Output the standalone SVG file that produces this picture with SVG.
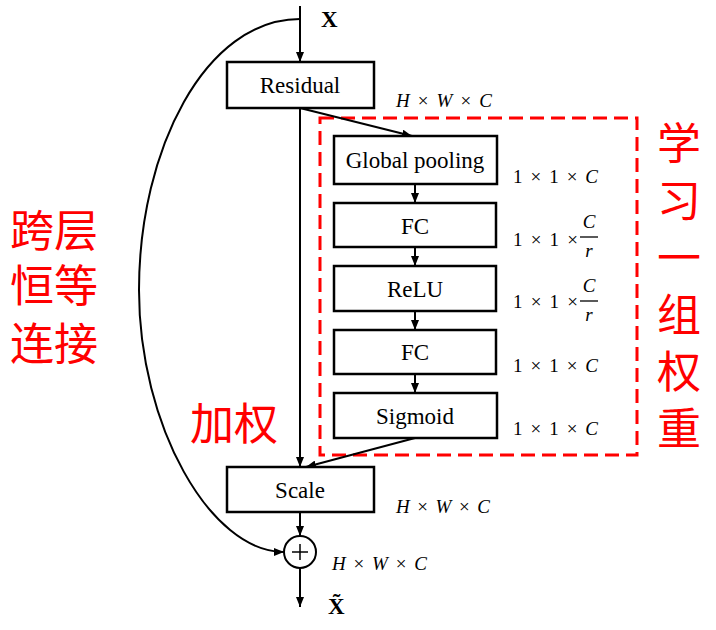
<svg xmlns="http://www.w3.org/2000/svg" width="716" height="630" viewBox="0 0 716 630">
<style>
.box{fill:#fff;stroke:#000;stroke-width:2.5}
.lbl{font-family:"Liberation Serif","Times New Roman",serif;font-size:23px;fill:#000;text-anchor:middle}
.dim{font-family:"Liberation Serif","Times New Roman",serif;font-style:italic;font-size:19px;fill:#000}
.num{font-family:"Liberation Serif","Times New Roman",serif;font-size:19px;fill:#000}
.it{font-style:italic}
.up{font-style:normal}
.cn{font-family:"Noto Sans CJK SC","Noto Sans",sans-serif;font-size:44px;fill:#ff0000}
.ln{fill:none;stroke:#000;stroke-width:2}
</style>
<defs>
<marker id="ah" markerUnits="userSpaceOnUse" markerWidth="10" markerHeight="8" refX="10" refY="4" orient="auto">
<path d="M0,0 L10,4 L0,8 z" fill="#000"/>
</marker>
</defs>
<rect width="716" height="630" fill="#fff"/>

<g id="se-block">
<rect x="320" y="118" width="317" height="337" fill="none" stroke="#ff0000" stroke-width="3" stroke-dasharray="14 7"/>
</g>

<g id="connectors">
<line class="ln" x1="300" y1="6" x2="300" y2="62" marker-end="url(#ah)"/>
<line class="ln" x1="300" y1="108" x2="300" y2="467" marker-end="url(#ah)"/>
<line class="ln" x1="300" y1="108" x2="412" y2="136" marker-end="url(#ah)"/>
<line class="ln" x1="415" y1="184" x2="415" y2="203" marker-end="url(#ah)"/>
<line class="ln" x1="415" y1="247" x2="415" y2="266" marker-end="url(#ah)"/>
<line class="ln" x1="415" y1="311" x2="415" y2="330" marker-end="url(#ah)"/>
<line class="ln" x1="415" y1="374" x2="415" y2="393" marker-end="url(#ah)"/>
<line class="ln" x1="415" y1="438" x2="306" y2="467" marker-end="url(#ah)"/>
<line class="ln" x1="300" y1="512" x2="300" y2="536" marker-end="url(#ah)"/>
<line class="ln" x1="300" y1="568" x2="300" y2="607" marker-end="url(#ah)"/>
<path class="ln" d="M300,19 C205,19 139,150 139,290 C139,425 210,552 284,552" marker-end="url(#ah)"/>
</g>

<g id="residual">
<rect class="box" x="227" y="62" width="147" height="46"/>
<text class="lbl" x="300" y="93">Residual</text>
</g>
<g id="global-pooling">
<rect class="box" x="334" y="136" width="163" height="48"/>
<text class="lbl" x="415" y="168">Global pooling</text>
</g>
<g id="fc1">
<rect class="box" x="334" y="203" width="162" height="44"/>
<text class="lbl" x="415" y="234">FC</text>
</g>
<g id="relu">
<rect class="box" x="334" y="266" width="162" height="45"/>
<text class="lbl" x="415" y="297">ReLU</text>
</g>
<g id="fc2">
<rect class="box" x="334" y="330" width="162" height="44"/>
<text class="lbl" x="415" y="360">FC</text>
</g>
<g id="sigmoid">
<rect class="box" x="334" y="393" width="163" height="45"/>
<text class="lbl" x="415" y="424">Sigmoid</text>
</g>
<g id="scale">
<rect class="box" x="227" y="467" width="147" height="45"/>
<text class="lbl" x="300" y="498">Scale</text>
</g>
<g id="add">
<circle cx="300" cy="552" r="16" fill="#fff" stroke="#000" stroke-width="2"/>
<line x1="292" y1="552" x2="308" y2="552" stroke="#000" stroke-width="1.5"/>
<line x1="300" y1="544" x2="300" y2="560" stroke="#000" stroke-width="1.5"/>
</g>

<g id="labels">
<text x="321" y="27" font-family="Liberation Serif, serif" font-weight="bold" font-size="23">X</text>
<text x="328" y="614" font-family="Liberation Serif, serif" font-weight="bold" font-size="23">X̃</text>

<text class="dim" x="396" y="107" textLength="96" lengthAdjust="spacing">H <tspan class="up">×</tspan> W <tspan class="up">×</tspan> C</text>
<text class="dim" x="396" y="513" textLength="94" lengthAdjust="spacing">H <tspan class="up">×</tspan> W <tspan class="up">×</tspan> C</text>
<text class="dim" x="332" y="570" textLength="95" lengthAdjust="spacing">H <tspan class="up">×</tspan> W <tspan class="up">×</tspan> C</text>

<text class="num" x="513" y="183" textLength="85" lengthAdjust="spacing">1 × 1 × <tspan class="it">C</tspan></text>
<text class="num" x="513" y="246" textLength="65" lengthAdjust="spacing">1 × 1 ×</text>
<text class="num it" x="589" y="228" text-anchor="middle">C</text>
<line x1="580" y1="237" x2="598" y2="237" stroke="#000" stroke-width="1.3"/>
<text class="num it" x="589" y="257" text-anchor="middle">r</text>
<text class="num" x="513" y="308" textLength="65" lengthAdjust="spacing">1 × 1 ×</text>
<text class="num it" x="589" y="292" text-anchor="middle">C</text>
<line x1="580" y1="301" x2="598" y2="301" stroke="#000" stroke-width="1.3"/>
<text class="num it" x="589" y="321" text-anchor="middle">r</text>
<text class="num" x="513" y="372" textLength="85" lengthAdjust="spacing">1 × 1 × <tspan class="it">C</tspan></text>
<text class="num" x="513" y="435" textLength="85" lengthAdjust="spacing">1 × 1 × <tspan class="it">C</tspan></text>
</g>

<g id="annotations">
<text class="cn" font-size="45"><tspan x="10" y="247">跨层</tspan><tspan x="10" y="302">恒等</tspan><tspan x="10" y="360">连接</tspan></text>
<text class="cn" x="190" y="440" font-size="45">加权</text>
<text class="cn" x="679" y="121" style="writing-mode:vertical-rl;letter-spacing:13px">学习一组权重</text>
</g>
</svg>
